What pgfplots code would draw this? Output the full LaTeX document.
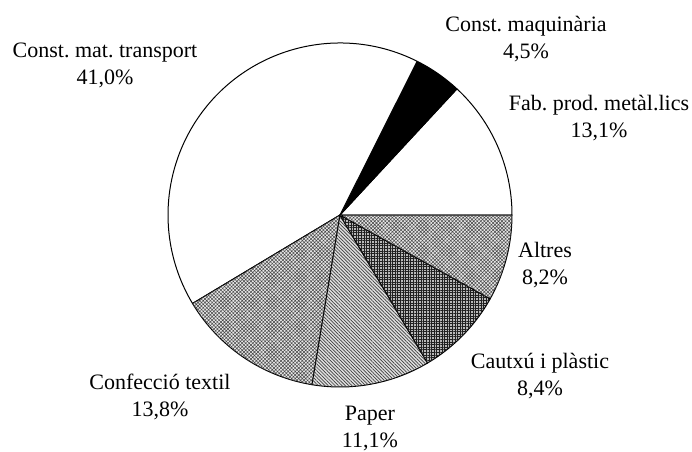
\documentclass[border=0pt]{standalone}
\usepackage{fontspec}
\setmainfont{Liberation Serif}
\usepackage{pgfplots}
\pgfplotsset{compat=1.18}
\usepackage{pgfplotstable}
\usetikzlibrary{patterns.meta}
\frenchspacing

% slices counter-clockwise from 0 degrees; lx/ly = label centre (pixel grid, y up)
\pgfplotstableread[col sep=semicolon]{
name;value;pct;lx;ly;sty
Fab. prod. metàl.lics;13.1;13,1;599;332.5;swhite
Const. maquinària;4.5;4,5;526;412;sblack
Const. mat. transport;41.0;41,0;105;385.5;swhite
Confecció textil;13.8;13,8;160;54.5;schk
Paper;11.1;11,1;370;23;sdiag
Cautxú i plàstic;8.4;8,4;540;74.5;sgrid
Altres;8.2;8,2;545;185.5;schk
}\piedata

\tikzset{
  swhite/.style={fill=white},
  sblack/.style={fill=black},
  schk/.style={fill=gray!18,postaction={pattern={Hatch[angle=45,distance=1.25pt,line width=0.25pt]},pattern color=gray!55!black}},
  sdiag/.style={fill=gray!25,postaction={pattern={Lines[angle=-45,distance=1.2pt,line width=0.35pt]},pattern color=gray!50!black}},
  sgrid/.style={fill=gray!55,postaction={pattern={Hatch[angle=0,distance=1.3pt,line width=0.3pt]},pattern color=gray!25!black}},
}

\begin{document}
\begin{tikzpicture}
\begin{axis}[
  scale only axis,
  width=346pt, height=225.5pt,
  xmin=0, xmax=692, ymin=0, ymax=451,
  hide axis, clip=false,
]
\path (rel axis cs:0,0) rectangle (rel axis cs:1,1);
\def\cum{0}
\pgfplotsforeachungrouped \i in {0,...,6}{
  \pgfplotstablegetelem{\i}{value}\of\piedata \let\v\pgfplotsretval
  \pgfplotstablegetelem{\i}{sty}\of\piedata \let\st\pgfplotsretval
  \pgfplotstablegetelem{\i}{name}\of\piedata \let\nm\pgfplotsretval
  \pgfplotstablegetelem{\i}{pct}\of\piedata \let\pc\pgfplotsretval
  \pgfplotstablegetelem{\i}{lx}\of\piedata \let\lx\pgfplotsretval
  \pgfplotstablegetelem{\i}{ly}\of\piedata \let\ly\pgfplotsretval
  \pgfmathsetmacro\a{\cum*3.6}
  \pgfmathsetmacro\b{min((\cum+\v)*3.6,360)}
  \edef\tmp{%
    \noexpand\draw[\st,line width=0.5pt,line join=round]
      (axis cs:340,236) -- ++(\a:86pt) arc[start angle=\a,end angle=\b,radius=86pt] -- cycle;
    \noexpand\node[align=center,font=\noexpand\fontsize{11}{13.5}\noexpand\selectfont,inner sep=0pt]
      at (axis cs:\lx,\ly) {\nm\noexpand\\\pc\noexpand\%};
  }\tmp
  \pgfmathsetmacro\cum{\cum+\v}
}
\end{axis}
\end{tikzpicture}
\end{document}
